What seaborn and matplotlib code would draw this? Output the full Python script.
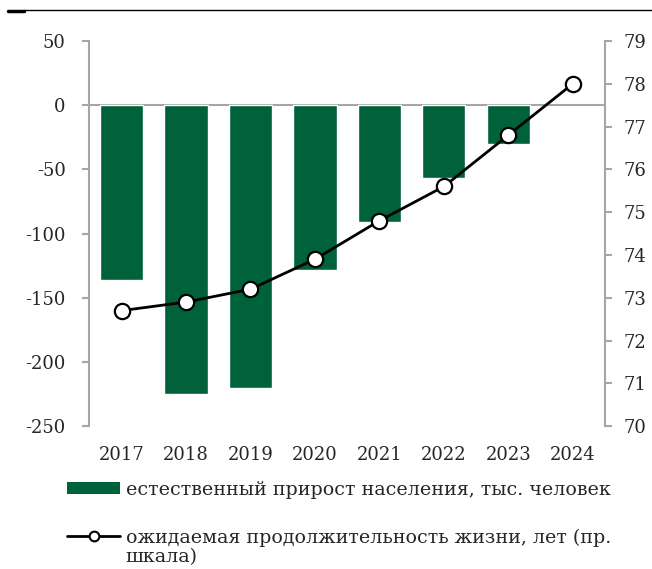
import numpy as np
import pandas as pd
import matplotlib
matplotlib.use('Agg')
import matplotlib.pyplot as plt
from matplotlib.patches import Patch
from matplotlib.lines import Line2D
import seaborn as sns

# данные
years = ['2017', '2018', '2019', '2020', '2021', '2022', '2023', '2024']
natural_growth = [-136, -225, -220, -128, -91, -57, -30, np.nan]
life_expectancy = [72.7, 72.9, 73.2, 73.9, 74.8, 75.6, 76.8, 78.0]

bar_label = 'естественный прирост населения, тыс. человек'
line_label = 'ожидаемая продолжительность жизни, лет (пр.'
line_label_2 = 'шкала)'

green = '#00623A'
grey = '#A6A6A6'

sns.set_style('white')
plt.rcParams['font.family'] = ['DejaVu Serif']
plt.rcParams['font.size'] = 13
plt.rcParams['axes.unicode_minus'] = False

df = pd.DataFrame({'year': years, 'growth': natural_growth, 'life': life_expectancy})

fig = plt.figure(figsize=(6.52, 5.69), dpi=100)
ax = fig.add_axes([0.137, 0.251, 0.791, 0.677])

sns.barplot(data=df, x='year', y='growth', color=green, width=0.67,
            saturation=1, ax=ax, zorder=2)
ax.axhline(0, color=grey, lw=1.5, zorder=1)
ax.set_ylim(-250, 50)
ax.set_yticks(range(-250, 51, 50))
ax.set_xlim(-0.5, len(years) - 0.5)
ax.set_xlabel('')
ax.set_ylabel('')

ax2 = ax.twinx()
sns.lineplot(x=np.arange(len(years)), y=df['life'], ax=ax2, color='black', lw=2,
             marker='o', markersize=11, markerfacecolor='white',
             markeredgecolor='black', markeredgewidth=1.6, zorder=3)
ax2.set_ylim(70, 79)
ax2.set_yticks(range(70, 80))
ax2.set_xlim(-0.5, len(years) - 0.5)
ax2.set_ylabel('')

for a in (ax, ax2):
    for s in a.spines.values():
        s.set_visible(False)
ax.spines['left'].set_visible(True)
ax.spines['left'].set_color(grey)
ax.spines['left'].set_linewidth(1.5)
ax2.spines['right'].set_visible(True)
ax2.spines['right'].set_color(grey)
ax2.spines['right'].set_linewidth(1.5)

ax.tick_params(axis='y', left=True, length=5, width=1.5, color=grey, pad=12, labelsize=13)
ax.tick_params(axis='x', bottom=False, pad=11, labelsize=13)
ax2.tick_params(axis='y', right=True, length=5, width=1.5, color=grey, pad=8, labelsize=13)

handles = [Patch(facecolor=green, edgecolor='none'),
           Line2D([], [], color='black', lw=2, marker='o', markersize=7,
                  markerfacecolor='white', markeredgecolor='black', markeredgewidth=1.5)]
leg = fig.legend(handles, [bar_label, line_label], loc='upper left',
                 bbox_to_anchor=(0.103, 0.155), frameon=False, fontsize=13.7,
                 handlelength=2.8, handleheight=0.6, handletextpad=0.3,
                 labelspacing=1.55, borderaxespad=0, borderpad=0)
fig.text(0.192, 0.021, line_label_2, fontsize=13.7, va='center')

# верхняя декоративная линия
fig.add_artist(Line2D([0.012, 0.037], [0.981, 0.981], color='black', lw=2.5))
fig.add_artist(Line2D([0.037, 1.0], [0.982, 0.982], color='black', lw=1))

plt.savefig('out.png', dpi=100)
